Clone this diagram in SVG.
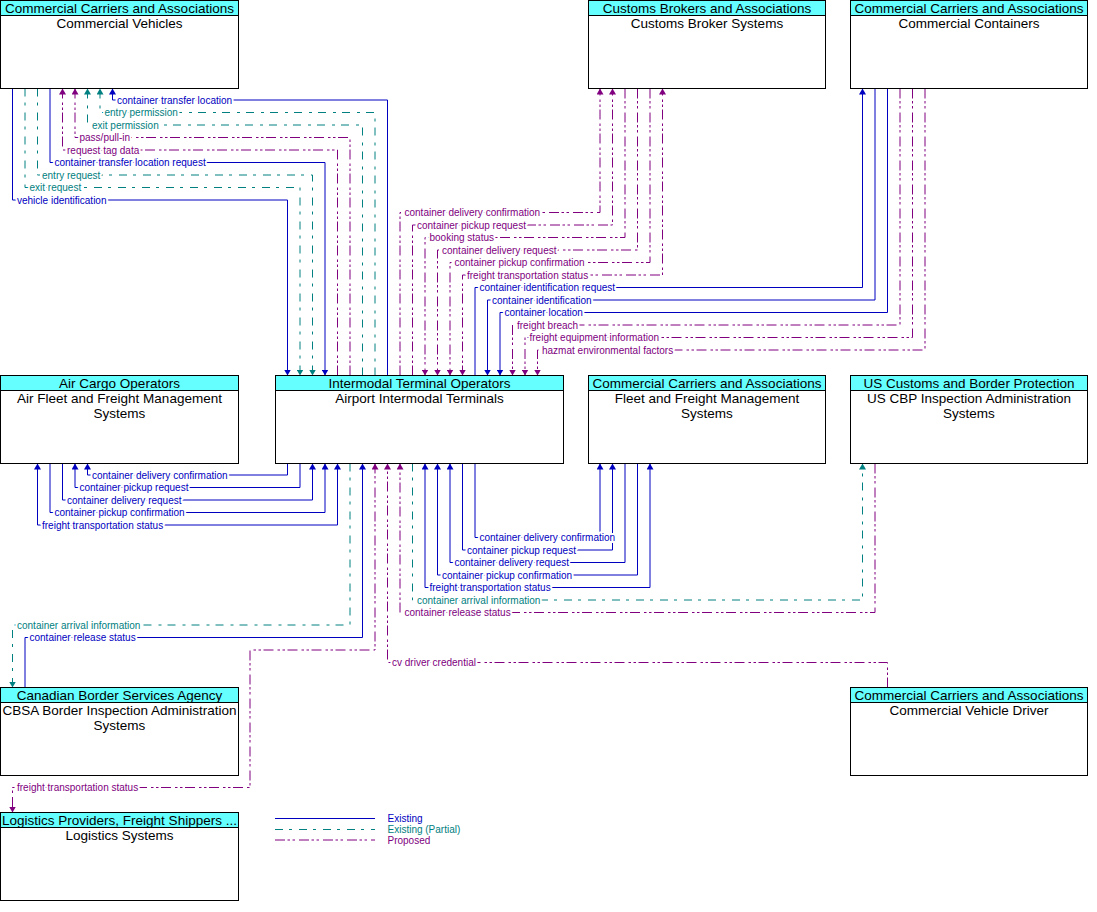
<svg xmlns="http://www.w3.org/2000/svg" width="1097" height="912" viewBox="0 0 1097 912">
<style>
.box{fill:#fff;stroke:#000;stroke-width:1}
.hdr{fill:#66FFFF;stroke:#000;stroke-width:1}
.nt{font-family:"Liberation Sans",Arial,sans-serif;font-size:13.5px;text-anchor:middle;fill:#000}
.f{fill:none;stroke-width:1}
.e{stroke:#0000C0}
.p{stroke:#008080;stroke-dasharray:8 6 3 7}
.r{stroke:#800080;stroke-dasharray:10 2.5 2.5 2.5 2.5 4}
.l{font-family:"Liberation Sans",Arial,sans-serif;font-size:10px;stroke:#fff;stroke-width:4;stroke-linejoin:round;paint-order:stroke}
.le{fill:#0000C0}
.lp{fill:#008080}
.lr{fill:#800080}
.lg{font-family:"Liberation Sans",Arial,sans-serif;font-size:10px}
</style>
<defs>
<marker id="ab" viewBox="0 0 6 7" refX="6" refY="3.5" markerWidth="6" markerHeight="7" markerUnits="userSpaceOnUse" orient="auto-start-reverse"><path d="M0,0 L6,3.5 L0,7 z" fill="#0000C0"/></marker>
<marker id="at" viewBox="0 0 6 7" refX="6" refY="3.5" markerWidth="6" markerHeight="7" markerUnits="userSpaceOnUse" orient="auto-start-reverse"><path d="M0,0 L6,3.5 L0,7 z" fill="#008080"/></marker>
<marker id="ap" viewBox="0 0 6 7" refX="6" refY="3.5" markerWidth="6" markerHeight="7" markerUnits="userSpaceOnUse" orient="auto-start-reverse"><path d="M0,0 L6,3.5 L0,7 z" fill="#800080"/></marker>
</defs>
<rect width="1097" height="912" fill="#fff"/>

<g id="connectors">
<!-- Commercial Vehicles -->
<path class="f e" d="M387.5,375.5 V100 H112.5 V88.5" marker-end="url(#ab)"/>
<path class="f p" d="M375,375.5 V112.5 H100 V88.5" marker-end="url(#at)"/>
<path class="f p" d="M362.5,375.5 V125 H87.5 V88.5" marker-end="url(#at)"/>
<path class="f r" d="M350,375.5 V137.5 H75 V88.5" marker-end="url(#ap)"/>
<path class="f r" d="M337.5,375.5 V150 H62.5 V88.5" marker-end="url(#ap)"/>
<path class="f e" d="M50,88.5 V162.5 H325 V375.5" marker-end="url(#ab)"/>
<path class="f p" d="M37.5,88.5 V175 H312.5 V375.5" marker-end="url(#at)"/>
<path class="f p" d="M25,88.5 V187.5 H300 V375.5" marker-end="url(#at)"/>
<path class="f e" d="M12.5,88.5 V200 H287.5 V375.5" marker-end="url(#ab)"/>
<!-- Customs Broker -->
<path class="f r" d="M400,375.5 V212.5 H600 V88.5" marker-end="url(#ap)"/>
<path class="f r" d="M412.5,375.5 V225 H612.5 V88.5" marker-end="url(#ap)"/>
<path class="f r" d="M625,88.5 V237.5 H425 V375.5" marker-end="url(#ap)"/>
<path class="f r" d="M637.5,88.5 V250 H437.5 V375.5" marker-end="url(#ap)"/>
<path class="f r" d="M650,88.5 V262.5 H450 V375.5" marker-end="url(#ap)"/>
<path class="f r" d="M462.5,375.5 V275 H662.5 V88.5" marker-start="url(#ap)" marker-end="url(#ap)"/>
<!-- Commercial Containers -->
<path class="f e" d="M475,375.5 V287.5 H862.5 V88.5" marker-end="url(#ab)"/>
<path class="f e" d="M875,88.5 V300 H487.5 V375.5" marker-end="url(#ab)"/>
<path class="f e" d="M887.5,88.5 V312.5 H500 V375.5" marker-end="url(#ab)"/>
<path class="f r" d="M900,88.5 V325 H512.5 V375.5" marker-end="url(#ap)"/>
<path class="f r" d="M912.5,88.5 V337.5 H525 V375.5" marker-end="url(#ap)"/>
<path class="f r" d="M925,88.5 V350 H537.5 V375.5" marker-end="url(#ap)"/>
<!-- Air Fleet -->
<path class="f e" d="M287.5,463.5 V475 H87.5 V463.5" marker-end="url(#ab)"/>
<path class="f e" d="M300,463.5 V487.5 H75 V463.5" marker-end="url(#ab)"/>
<path class="f e" d="M62.5,463.5 V500 H312.5 V463.5" marker-end="url(#ab)"/>
<path class="f e" d="M50,463.5 V512.5 H325 V463.5" marker-end="url(#ab)"/>
<path class="f e" d="M37.5,463.5 V525 H337.5 V463.5" marker-start="url(#ab)" marker-end="url(#ab)"/>
<!-- Fleet and Freight -->
<path class="f e" d="M475,463.5 V537.5 H600 V463.5" marker-end="url(#ab)"/>
<path class="f e" d="M462.5,463.5 V550 H612.5 V463.5" marker-end="url(#ab)"/>
<path class="f e" d="M625,463.5 V562.5 H450 V463.5" marker-end="url(#ab)"/>
<path class="f e" d="M637.5,463.5 V575 H437.5 V463.5" marker-end="url(#ab)"/>
<path class="f e" d="M425,463.5 V587.5 H650 V463.5" marker-start="url(#ab)" marker-end="url(#ab)"/>
<!-- US CBP -->
<path class="f p" d="M412.5,463.5 V600 H862.5 V463.5" marker-end="url(#at)"/>
<path class="f r" d="M875,463.5 V612.5 H400 V463.5" marker-end="url(#ap)"/>
<!-- Driver -->
<path class="f r" d="M887.5,687.5 V662.5 H387.5 V463.5" marker-end="url(#ap)"/>
<!-- Logistics -->
<path class="f r" d="M375,463.5 V650 H250 V787.5 H12.5 V812.5" marker-start="url(#ap)" marker-end="url(#ap)"/>
<!-- CBSA -->
<path class="f p" d="M350,463.5 V625 H12.5 V687.5" marker-end="url(#at)"/>
<path class="f e" d="M25,687.5 V637.5 H362.5 V463.5" marker-end="url(#ab)"/>

<!-- labels -->
<text class="l le" x="117" y="103.5">container transfer location</text>
<text class="l lp" x="104.5" y="116">entry permission</text>
<text class="l lp" x="92" y="128.5">exit permission</text>
<text class="l lr" x="79.5" y="141">pass/pull-in</text>
<text class="l lr" x="67" y="153.5">request tag data</text>
<text class="l le" x="54.5" y="166">container transfer location request</text>
<text class="l lp" x="42" y="178.5">entry request</text>
<text class="l lp" x="29.5" y="191">exit request</text>
<text class="l le" x="17" y="203.5">vehicle identification</text>

<text class="l lr" x="404.5" y="216">container delivery confirmation</text>
<text class="l lr" x="417" y="228.5">container pickup request</text>
<text class="l lr" x="429.5" y="241">booking status</text>
<text class="l lr" x="442" y="253.5">container delivery request</text>
<text class="l lr" x="454.5" y="266">container pickup confirmation</text>
<text class="l lr" x="467" y="278.5">freight transportation status</text>
<text class="l le" x="479.5" y="291">container identification request</text>
<text class="l le" x="492" y="303.5">container identification</text>
<text class="l le" x="504.5" y="316">container location</text>
<text class="l lr" x="517" y="328.5">freight breach</text>
<text class="l lr" x="529.5" y="341">freight equipment information</text>
<text class="l lr" x="542" y="353.5">hazmat environmental factors</text>

<text class="l le" x="92" y="478.5">container delivery confirmation</text>
<text class="l le" x="79.5" y="491">container pickup request</text>
<text class="l le" x="67" y="503.5">container delivery request</text>
<text class="l le" x="54.5" y="516">container pickup confirmation</text>
<text class="l le" x="42" y="528.5">freight transportation status</text>

<text class="l le" x="479.5" y="541">container delivery confirmation</text>
<text class="l le" x="467" y="553.5">container pickup request</text>
<text class="l le" x="454.5" y="566">container delivery request</text>
<text class="l le" x="442" y="578.5">container pickup confirmation</text>
<text class="l le" x="429.5" y="591">freight transportation status</text>
<text class="l lp" x="417" y="603.5">container arrival information</text>
<text class="l lr" x="404.5" y="616">container release status</text>
<text class="l lp" x="17" y="628.5">container arrival information</text>
<text class="l le" x="29.5" y="641">container release status</text>
<text class="l lr" x="392" y="666">cv driver credential</text>
<text class="l lr" x="17" y="791">freight transportation status</text>
</g>

<g id="n-commercial-vehicles">
<rect class="box" x="0.5" y="0.5" width="238" height="88"/>
<rect class="hdr" x="0.5" y="0.5" width="238" height="15"/>
<text class="nt" x="119.5" y="13">Commercial Carriers and Associations</text>
<text class="nt" x="119.5" y="27.5">Commercial Vehicles</text>
</g>
<g id="n-customs-broker">
<rect class="box" x="588.5" y="0.5" width="237" height="88"/>
<rect class="hdr" x="588.5" y="0.5" width="237" height="15"/>
<text class="nt" x="707" y="13">Customs Brokers and Associations</text>
<text class="nt" x="707" y="27.5">Customs Broker Systems</text>
</g>
<g id="n-commercial-containers">
<rect class="box" x="850.5" y="0.5" width="237" height="88"/>
<rect class="hdr" x="850.5" y="0.5" width="237" height="15"/>
<text class="nt" x="969" y="13">Commercial Carriers and Associations</text>
<text class="nt" x="969" y="27.5">Commercial Containers</text>
</g>
<g id="n-air-fleet">
<rect class="box" x="0.5" y="375.5" width="238" height="88"/>
<rect class="hdr" x="0.5" y="375.5" width="238" height="15"/>
<text class="nt" x="119.5" y="388">Air Cargo Operators</text>
<text class="nt" x="119.5" y="402.5">Air Fleet and Freight Management</text>
<text class="nt" x="119.5" y="417.5">Systems</text>
</g>
<g id="n-intermodal">
<rect class="box" x="275.5" y="375.5" width="288" height="88"/>
<rect class="hdr" x="275.5" y="375.5" width="288" height="15"/>
<text class="nt" x="419.5" y="388">Intermodal Terminal Operators</text>
<text class="nt" x="419.5" y="402.5">Airport Intermodal Terminals</text>
</g>
<g id="n-fleet-freight">
<rect class="box" x="588.5" y="375.5" width="237" height="88"/>
<rect class="hdr" x="588.5" y="375.5" width="237" height="15"/>
<text class="nt" x="707" y="388">Commercial Carriers and Associations</text>
<text class="nt" x="707" y="402.5">Fleet and Freight Management</text>
<text class="nt" x="707" y="417.5">Systems</text>
</g>
<g id="n-us-cbp">
<rect class="box" x="850.5" y="375.5" width="237" height="88"/>
<rect class="hdr" x="850.5" y="375.5" width="237" height="15"/>
<text class="nt" x="969" y="388">US Customs and Border Protection</text>
<text class="nt" x="969" y="402.5">US CBP Inspection Administration</text>
<text class="nt" x="969" y="417.5">Systems</text>
</g>
<g id="n-cbsa">
<rect class="box" x="0.5" y="687.5" width="238" height="88"/>
<rect class="hdr" x="0.5" y="687.5" width="238" height="15"/>
<text class="nt" x="119.5" y="700">Canadian Border Services Agency</text>
<text class="nt" x="119.5" y="714.5">CBSA Border Inspection Administration</text>
<text class="nt" x="119.5" y="729.5">Systems</text>
</g>
<g id="n-driver">
<rect class="box" x="850.5" y="687.5" width="237" height="88"/>
<rect class="hdr" x="850.5" y="687.5" width="237" height="15"/>
<text class="nt" x="969" y="700">Commercial Carriers and Associations</text>
<text class="nt" x="969" y="714.5">Commercial Vehicle Driver</text>
</g>
<g id="n-logistics">
<rect class="box" x="0.5" y="812.5" width="238" height="88"/>
<rect class="hdr" x="0.5" y="812.5" width="238" height="15"/>
<text class="nt" x="119.5" y="825">Logistics Providers, Freight Shippers ...</text>
<text class="nt" x="119.5" y="839.5">Logistics Systems</text>
</g>

<g id="legend">
<line class="f e" x1="275" y1="818.5" x2="375" y2="818.5"/>
<line class="f p" x1="275" y1="829.5" x2="375" y2="829.5"/>
<line class="f r" x1="275" y1="840" x2="375" y2="840"/>
<text class="lg le" x="387.5" y="822">Existing</text>
<text class="lg lp" x="387.5" y="833">Existing (Partial)</text>
<text class="lg lr" x="387.5" y="843.5">Proposed</text>
</g>
</svg>
